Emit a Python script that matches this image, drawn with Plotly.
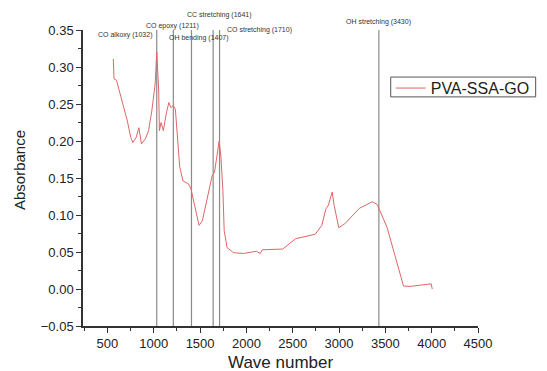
import plotly.graph_objects as go

# Spectrum
wavenumber = [563, 571, 598, 645, 690, 715, 751, 775, 810, 839, 867, 910, 944, 979, 1015, 1032,
              1053, 1061, 1079, 1103, 1138, 1163, 1185, 1209, 1233, 1262, 1280, 1315, 1375, 1402,
              1437, 1489, 1524, 1577, 1630, 1656, 1683, 1706, 1725, 1746, 1760, 1791, 1862, 1968,
              2108, 2140, 2151, 2172, 2286, 2392, 2532, 2656, 2743, 2814, 2857, 2884, 2926, 2947,
              2997, 3061, 3132, 3219, 3360, 3413, 3519, 3625, 3696, 3767, 3995, 4006]
absorbance = [0.311, 0.284, 0.282, 0.259, 0.236, 0.227, 0.205, 0.198, 0.205, 0.218, 0.196, 0.203,
              0.214, 0.241, 0.277, 0.320, 0.269, 0.214, 0.225, 0.214, 0.239, 0.252, 0.245, 0.248,
              0.243, 0.19, 0.165, 0.146, 0.142, 0.135, 0.115, 0.086, 0.092, 0.124, 0.153, 0.158,
              0.178, 0.200, 0.178, 0.133, 0.079, 0.056, 0.049, 0.048, 0.051, 0.048, 0.048, 0.053,
              0.053, 0.054, 0.068, 0.071, 0.074, 0.086, 0.108, 0.113, 0.131, 0.113, 0.083, 0.088,
              0.097, 0.109, 0.118, 0.114, 0.083, 0.034, 0.004, 0.0035, 0.007, 0.0]

# Band assignments
band_positions = [1032, 1211, 1407, 1641, 1710, 3430]
band_labels = ["CO alkoxy (1032)", "CO epoxy (1211)", "OH bending (1407)",
               "CC stretching (1641)", "CO stretching (1710)", "OH stretching (3430)"]

x_ticks = [500, 1000, 1500, 2000, 2500, 3000, 3500, 4000, 4500]
y_ticks = [-0.05, 0.0, 0.05, 0.10, 0.15, 0.20, 0.25, 0.30, 0.35]

FONT = "Arial, Liberation Sans, sans-serif"

fig = go.Figure()
fig.add_trace(go.Scatter(x=wavenumber, y=absorbance, mode="lines", name="PVA-SSA-GO",
                         line=dict(color="#e06666", width=1)))

for xp in band_positions:
    fig.add_shape(type="line", x0=xp, x1=xp, y0=-0.05, y1=0.35, xref="x", yref="y",
                  line=dict(color="#8a8a8a", width=1.2), layer="below")

# label placement (anchor, pixel shift, paper y)
lab_style = [("right", -3, 0.983), ("center", -1, 1.0135), ("left", -24, 0.973),
             ("center", 6, 1.051), ("left", 5, 1.0), ("center", 0, 1.027)]
for xp, lab, (anc, sh, yy) in zip(band_positions, band_labels, lab_style):
    fig.add_annotation(x=xp, y=yy, xref="x", yref="paper", text=lab, showarrow=False,
                       xanchor=anc, yanchor="middle", xshift=sh,
                       font=dict(family=FONT, size=7, color="#333333"))

fig.add_annotation(x=0.5, y=0.0, xref="paper", yref="paper", text="Wave number",
                   showarrow=False, xanchor="center", yanchor="middle", yshift=-36,
                   font=dict(family=FONT, size=17, color="#222222"))
fig.add_annotation(x=0, y=0.5, xref="paper", yref="paper", text="Absorbance",
                   showarrow=False, xanchor="center", yanchor="middle", xshift=-64, yshift=8,
                   textangle=-90,
                   font=dict(family=FONT, size=15, color="#222222"))

# legend frame
fig.add_shape(type="rect", xref="paper", yref="paper", x0=0.779, x1=1.146, y0=0.774, y1=0.841,
              line=dict(color="#555555", width=1), fillcolor="rgba(0,0,0,0)")

fig.update_layout(
    width=539, height=363,
    margin=dict(l=75, r=61, t=22, b=45),
    paper_bgcolor="white", plot_bgcolor="white",
    font=dict(family=FONT, size=13, color="#222222"),
    showlegend=True,
    legend=dict(x=0.779, y=0.861, xanchor="left", yanchor="top",
                borderwidth=0, bgcolor="rgba(0,0,0,0)",
                font=dict(size=16, color="#222222")),
    xaxis=dict(range=[236, 4500], tickvals=x_ticks, ticks="outside", ticklen=5,
               tickcolor="#333333", showline=True, linecolor="#333333", linewidth=1.5,
               showgrid=False, zeroline=False,
               minor=dict(ticks="outside", ticklen=3, dtick=250, tick0=0, tickcolor="#333333")),
    yaxis=dict(range=[-0.05, 0.35], tickvals=y_ticks, tickformat=".2f", ticks="outside",
               ticklen=5, tickcolor="#333333", showline=True, linecolor="#333333",
               linewidth=1.5, showgrid=False, zeroline=False,
               minor=dict(ticks="outside", ticklen=3, dtick=0.025, tick0=0, tickcolor="#333333")),
)

fig.write_html("out.html", config={"displayModeBar": False})
